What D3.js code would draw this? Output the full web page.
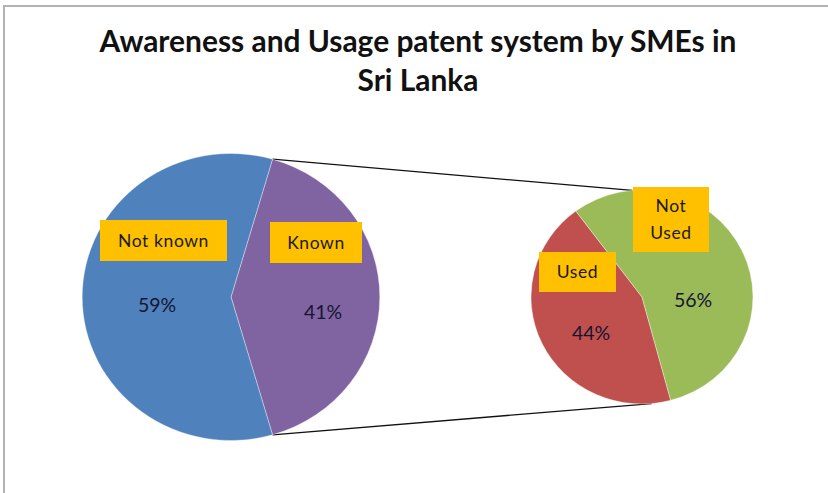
<!DOCTYPE html>
<html>
<head>
<meta charset="utf-8">
<script src="https://cdn.jsdelivr.net/npm/d3@7"></script>
<style>
  body { margin: 0; background: #fff; }
  svg { display: block; }
  text { font-family: Lato, "Open Sans", sans-serif; }
</style>
</head>
<body>
<div id="chart"></div>
<script>
// data
var titleLines = ["Awareness and Usage patent system by SMEs in", "Sri Lanka"];
var mainCats = ["Known", "Not known"];
var mainVals = [41, 59];
var subCats = ["Used", "Not Used"];
var subVals = [44, 56];

var width = 828, height = 493;
var colMain = ["#8064A2", "#4F81BD"],
    colSub = ["#C0504D", "#9BBB59"];

// layout (pixels) - the picture is stretched a little horizontally
var stretch = 1.037;
var main = {cx: 231, cy: 297, r: 143.5},
    sub = {cx: 642, cy: 297, r: 107};

// label box / percent offsets from pie centre
var mainLab = [
  {box: [39, -75, 92, 41], pct: [92, 15]},
  {box: [-131, -77, 127, 41], pct: [-74, 8]}
];
var subLab = [
  {box: [-103, -45, 77, 40], pct: [-51, 36]},
  {box: [-9, -110, 76, 65], pct: [51, 3]}
];

var svg = d3.select("#chart").append("svg")
    .attr("width", width)
    .attr("height", height);

// frame
svg.append("path")
    .attr("d", "M4," + height + " V6 H" + width)
    .attr("fill", "none")
    .attr("stroke", "#b3b3b3")
    .attr("stroke-width", 2);

// title
var title = svg.append("g");
title.selectAll("text")
    .data(titleLines)
    .enter()
    .append("text")
    .attr("x", 418)
    .attr("y", function(d, i) { return 52 + i * 39; })
    .attr("text-anchor", "middle")
    .style("font-weight", "bold")
    .style("font-size", "25px")
    .attr("fill", "#111")
    .text(function(d) { return d; });

// fit the title to its width in the reference
var t0 = title.select("text").node();
var w0 = t0.getComputedTextLength();
var fs = 25 * 637 / w0;
title.selectAll("text").style("font-size", fs.toFixed(2) + "px");

var knownFrac = mainVals[0] / d3.sum(mainVals);
var mainStart = Math.PI / 2 - knownFrac * Math.PI;

var pieMain = d3.pie().sort(null)
    .startAngle(mainStart)
    .endAngle(mainStart + 2 * Math.PI);
var pieSub = d3.pie().sort(null)
    .startAngle(165 * Math.PI / 180)
    .endAngle(165 * Math.PI / 180 + 2 * Math.PI);

function pt(p, a) {
  return [p.cx + stretch * p.r * Math.sin(a), p.cy - p.r * Math.cos(a)];
}

// connector lines
var mainArcs = pieMain(mainVals);
var k = mainArcs[0];
var links = [
  [pt(main, k.startAngle), pt(sub, -5 * Math.PI / 180)],
  [pt(main, k.endAngle), pt(sub, 175 * Math.PI / 180)]
];
svg.selectAll(".link")
    .data(links)
    .enter()
    .append("line")
    .attr("class", "link")
    .attr("x1", function(d) { return d[0][0]; })
    .attr("y1", function(d) { return d[0][1]; })
    .attr("x2", function(d) { return d[1][0]; })
    .attr("y2", function(d) { return d[1][1]; })
    .attr("stroke", "#111")
    .attr("stroke-width", 1.3);

function drawPie(p, arcs, cols) {
  var arc = d3.arc().innerRadius(0).outerRadius(p.r);
  var g = svg.append("g")
      .attr("transform", "translate(" + p.cx + "," + p.cy + ") scale(" + stretch + ",1)");
  g.selectAll("path")
      .data(arcs)
      .enter()
      .append("path")
      .attr("d", arc)
      .attr("fill", function(d, i) { return cols[i]; })
      .attr("stroke", "rgba(255,255,255,0.6)")
      .attr("stroke-width", 0.6);
}

function drawLabels(p, arcs, cats, labs) {
  var total = d3.sum(arcs, function(d) { return d.value; });
  var g = svg.append("g")
      .attr("transform", "translate(" + p.cx + "," + p.cy + ")");
  arcs.forEach(function(d, i) {
    var b = labs[i].box;
    g.append("rect")
        .attr("x", b[0]).attr("y", b[1])
        .attr("width", b[2]).attr("height", b[3])
        .attr("fill", "#FFC000");
    var words = cats[i] == "Not Used" ? ["Not", "Used"] : [cats[i]];
    var lh = 27;
    words.forEach(function(w, j) {
      g.append("text")
          .attr("x", b[0] + b[2] / 2)
          .attr("y", b[1] + b[3] / 2 + (j - (words.length - 1) / 2) * lh)
          .attr("dy", "0.35em")
          .attr("text-anchor", "middle")
          .style("font-size", "17.5px")
          .style("letter-spacing", "0.6px")
          .attr("fill", "#1a1a1a")
          .text(w);
    });
    g.append("text")
        .attr("x", labs[i].pct[0])
        .attr("y", labs[i].pct[1])
        .attr("dy", "0.35em")
        .attr("text-anchor", "middle")
        .style("font-size", "19.5px")
        .attr("fill", "#151530")
        .text(Math.round(d.value / total * 100) + "%");
  });
}

var subArcs = pieSub(subVals);
drawPie(main, mainArcs, colMain);
drawPie(sub, subArcs, colSub);
drawLabels(main, mainArcs, mainCats, mainLab);
drawLabels(sub, subArcs, subCats, subLab);
</script>
</body>
</html>
